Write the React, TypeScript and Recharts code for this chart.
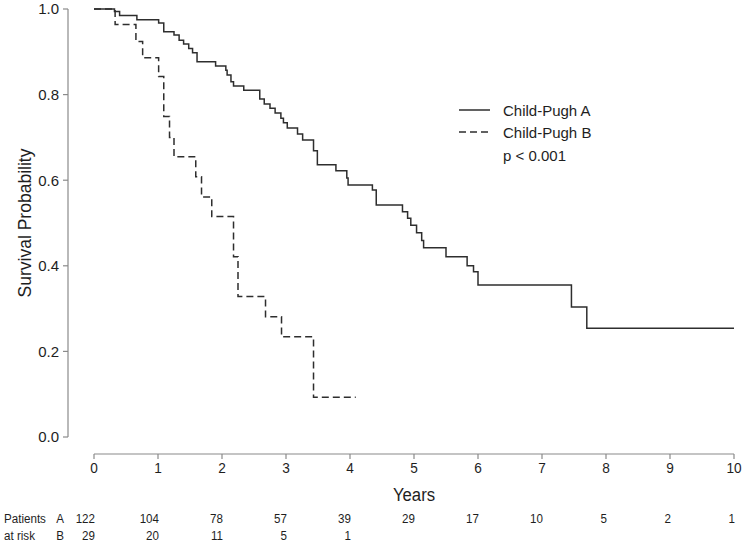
import React from "react";
import { LineChart, Line, XAxis, YAxis, Legend } from "recharts";

// Kaplan-Meier step points
const timesA = [0, 0.32, 0.4, 0.67, 1.01, 1.09, 1.25, 1.33, 1.4, 1.48, 1.54, 1.61, 1.9, 2.06, 2.08, 2.14, 2.18, 2.34, 2.59, 2.66, 2.75, 2.83, 2.92, 2.96, 3.02, 3.18, 3.26, 3.43, 3.49, 3.78, 3.95, 3.97, 4.35, 4.41, 4.82, 4.9, 4.95, 5.04, 5.12, 5.15, 5.5, 5.83, 5.93, 6.0, 7.46, 7.7, 10.0];
const survA = [1.0, 0.994, 0.985, 0.975, 0.967, 0.947, 0.939, 0.927, 0.918, 0.908, 0.898, 0.877, 0.867, 0.857, 0.846, 0.83, 0.82, 0.81, 0.79, 0.778, 0.768, 0.757, 0.745, 0.734, 0.722, 0.708, 0.694, 0.669, 0.636, 0.622, 0.605, 0.589, 0.577, 0.542, 0.526, 0.511, 0.495, 0.477, 0.459, 0.442, 0.421, 0.4, 0.386, 0.355, 0.304, 0.254, 0.254];

const timesB = [0, 0.33, 0.655, 0.76, 1.01, 1.09, 1.18, 1.25, 1.59, 1.68, 1.84, 2.18, 2.25, 2.68, 2.93, 3.43, 4.09];
const survB = [1.0, 0.964, 0.924, 0.886, 0.842, 0.749, 0.7, 0.655, 0.608, 0.561, 0.515, 0.421, 0.328, 0.281, 0.234, 0.093, 0.093];

const yearTicks = [0, 1, 2, 3, 4, 5, 6, 7, 8, 9, 10];
const probTicks = [0, 0.2, 0.4, 0.6, 0.8, 1.0];
const riskA = [122, 104, 78, 57, 39, 29, 17, 10, 5, 2, 1];
const riskB = [29, 20, 11, 5, 1];

const groupNames = ["Child-Pugh A", "Child-Pugh B"];
const pText = "p < 0.001";

const dataA = timesA.map((t, i) => ({ t, s: survA[i] }));
const dataB = timesB.map((t, i) => ({ t, s: survB[i] }));

const SANS = "'Liberation Sans', Arial, Helvetica, sans-serif";
const INK = "#1e1e1e";
const AXIS = "#8a8a8a";
const LINE = "#2e2e2e";
const PAD_L = 26;
const PAD_B = 17;

// narrow-looking text: squeeze horizontally around the anchor point
function Narrow({ x, y, k = 0.86, anchor = "start", size, children }: any) {
  return (
    <text
      x={0}
      y={0}
      transform={`translate(${x} ${y}) scale(${k} 1)`}
      textAnchor={anchor}
      dominantBaseline="central"
      fontFamily={SANS}
      fontSize={size}
      fill={INK}
    >
      {children}
    </text>
  );
}

function YearTick(props: any) {
  const { x, y, index, payload } = props;
  const a = riskA[index];
  const b = riskB[index];
  return (
    <g>
      <Narrow x={x} y={y + 6} anchor="middle" size={15.5} k={0.88}>{payload.value}</Narrow>
      {index === 0 && (
        <>
          <Narrow x={4} y={519} size={13.5}>Patients</Narrow>
          <Narrow x={4} y={536} size={13.5}>at risk</Narrow>
          <Narrow x={60} y={519} anchor="middle" size={13.5}>A</Narrow>
          <Narrow x={60} y={536} anchor="middle" size={13.5}>B</Narrow>
        </>
      )}
      {a !== undefined && <Narrow x={x + 1} y={519} anchor="end" size={13.5}>{a}</Narrow>}
      {b !== undefined && <Narrow x={x + 1} y={536} anchor="end" size={13.5}>{b}</Narrow>}
    </g>
  );
}

function LegendBox() {
  return (
    <svg width={200} height={70}>
      <line x1={4} x2={35} y1={12} y2={12} stroke={LINE} strokeWidth={1.5} />
      <line x1={4} x2={35} y1={34} y2={34} stroke={LINE} strokeWidth={1.5} strokeDasharray="7 4" />
      <g fontFamily={SANS} fontSize={15} fill={INK}>
        <text x={48} y={12} dominantBaseline="central">{groupNames[0]}</text>
        <text x={48} y={34} dominantBaseline="central">{groupNames[1]}</text>
        <text x={48} y={57} dominantBaseline="central">{pText}</text>
      </g>
    </svg>
  );
}

function YLabel(props: any) {
  const vb = props.viewBox || {};
  const cx = 25;
  const cy = vb.y + (vb.height - PAD_B) / 2;
  return (
    <text x={cx} y={cy} transform={`rotate(-90 ${cx} ${cy})`} textAnchor="middle" dominantBaseline="central"
      fontFamily={SANS} fontSize={17.5} fill={INK}>
      Survival Probability
    </text>
  );
}

function XLabel(props: any) {
  const vb = props.viewBox || {};
  const cx = vb.x + PAD_L + (vb.width - PAD_L) / 2;
  return <Narrow x={cx} y={vb.y + 41} anchor="middle" size={19} k={0.88}>Years</Narrow>;
}

export default function App() {
  return (
    <div style={{ position: "absolute", left: 0, top: 0, background: "#fff" }}>
      <LineChart width={747} height={545} margin={{ top: 9, right: 13, bottom: 0, left: 0 }}>
        <XAxis
          type="number"
          dataKey="t"
          domain={[0, 10]}
          ticks={yearTicks}
          allowDuplicatedCategory={false}
          padding={{ left: PAD_L, right: 0 }}
          height={91}
          axisLine={{ stroke: AXIS, strokeWidth: 1.2, strokeDasharray: `0 ${PAD_L} 2000` }}
          tickLine={{ stroke: AXIS, strokeWidth: 1.2 }}
          tickSize={5}
          tickMargin={3}
          tick={<YearTick />}
          label={<XLabel />}
        />
        <YAxis
          type="number"
          domain={[0, 1]}
          ticks={probTicks}
          width={68}
          padding={{ top: 0, bottom: PAD_B }}
          axisLine={{ stroke: AXIS, strokeWidth: 1.2, strokeDasharray: "428 2000" }}
          tickLine={{ stroke: AXIS, strokeWidth: 1.2 }}
          tickSize={5}
          tickMargin={4}
          tickFormatter={(v: number) => v.toFixed(1)}
          tick={{ fontFamily: SANS, fontSize: 15, fill: INK }}
          label={<YLabel />}
        />
        <Legend
          layout="horizontal"
          verticalAlign="middle"
          align="center"
          wrapperStyle={{ top: 98, left: 455, width: 200, height: 70 }}
          content={() => <LegendBox />}
        />
        <Line
          data={dataA}
          dataKey="s"
          type="stepAfter"
          stroke={LINE}
          strokeWidth={1.5}
          dot={false}
          activeDot={false}
          isAnimationActive={false}
        />
        <Line
          data={dataB}
          dataKey="s"
          type="stepAfter"
          stroke={LINE}
          strokeWidth={1.5}
          strokeDasharray="7 4"
          dot={false}
          activeDot={false}
          isAnimationActive={false}
        />
      </LineChart>
    </div>
  );
}
